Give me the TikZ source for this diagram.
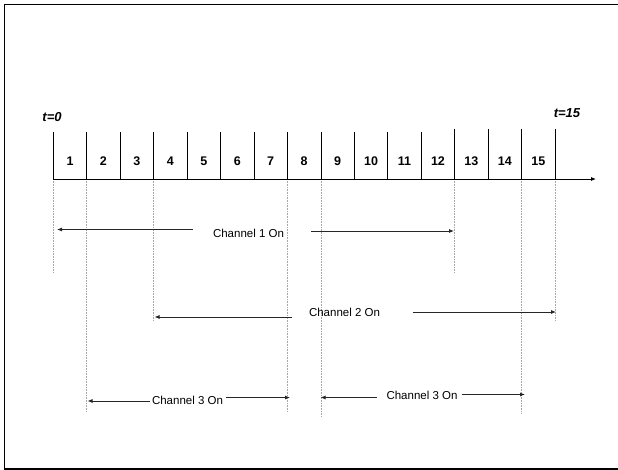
\documentclass[tikz,border=0pt]{standalone}
\usepackage{fontspec}
\setmainfont{Liberation Sans}
\usetikzlibrary{arrows.meta}
\begin{document}
\begin{tikzpicture}[x=1pt,y=-1pt,
  tickline/.style={line width=0.8pt},
  guide/.style={black!35, densely dotted, line width=0.6pt},
  span/.style={line width=0.8pt, black!85, -{Latex[length=5pt,width=4pt]}},
  num/.style={font=\bfseries\fontsize{12.5}{14}\selectfont, inner sep=0pt},
  tlab/.style={font=\bfseries\itshape\fontsize{13}{15}\selectfont, inner sep=0pt},
  chan/.style={font=\fontsize{11.5}{13}\selectfont, inner sep=0pt}]
\useasboundingbox (0,0) rectangle (618,470);
% frame
\draw[line width=1.4pt] (618,4.5) -- (4.5,4.5) -- (4.5,469) -- (618,469);
% tick coordinates on the axis
\foreach \i in {0,...,15}{
  \coordinate (t\i) at ({53.3+33.45*\i},179);
}
\coordinate (axend) at (596,179);
% guides (dotted)
\draw[guide] (t0) -- ++(0,93);
\draw[guide] (t12) -- ++(0,93);
\draw[guide] (t3) -- ++(0,142);
\draw[guide] (t15) -- ++(0,141);
\draw[guide] (t1) -- ++(0,233);
\draw[guide] (t7) -- ++(0,233);
\draw[guide] (t8) -- ++(0,238);
\draw[guide] (t14) -- ++(0,235);
% ticks
\foreach \i in {0,...,11}{\draw[tickline] (t\i) -- ++(0,-47);}
\foreach \i in {12,...,15}{\draw[tickline] (t\i) -- ++(0,-50);}
% axis
\draw[line width=0.8pt, -{Latex[length=5pt,width=4pt]}] (t0) -- (axend);
% slot numbers
\foreach \i in {1,...,15}{
  \node[num] (n\i) at ({70+33.45*(\i-1)},161.5) {\i};
}
% time labels
\node[tlab] (tzero) at (52,117) {t=0};
\node[tlab] (tend) at (567,113) {t=15};
% channel 1
\node[chan] (ch1) at (248.5,233) {Channel 1 On};
\coordinate (c1a) at (193,229.5);
\coordinate (c1b) at (57,229.5);
\coordinate (c1c) at (311,231);
\coordinate (c1d) at (454,231);
\draw[span] (c1a) -- (c1b);
\draw[span] (c1c) -- (c1d);
% channel 2
\node[chan] (ch2) at (344.5,312.5) {Channel 2 On};
\coordinate (c2a) at (292,317);
\coordinate (c2b) at (154.5,317);
\coordinate (c2c) at (412.5,312);
\coordinate (c2d) at (556,312);
\draw[span] (c2a) -- (c2b);
\draw[span] (c2c) -- (c2d);
% channel 3 (first)
\node[chan] (ch3a) at (187.5,400) {Channel 3 On};
\coordinate (c3a) at (149.5,401);
\coordinate (c3b) at (87.5,401);
\coordinate (c3c) at (225.5,397.5);
\coordinate (c3d) at (290,397.5);
\draw[span] (c3a) -- (c3b);
\draw[span] (c3c) -- (c3d);
% channel 3 (second)
\node[chan] (ch3b) at (422,395.5) {Channel 3 On};
\coordinate (c3e) at (376.5,397.5);
\coordinate (c3f) at (320.5,397.5);
\coordinate (c3g) at (461.5,394.5);
\coordinate (c3h) at (525,394.5);
\draw[span] (c3e) -- (c3f);
\draw[span] (c3g) -- (c3h);
\end{tikzpicture}
\end{document}
